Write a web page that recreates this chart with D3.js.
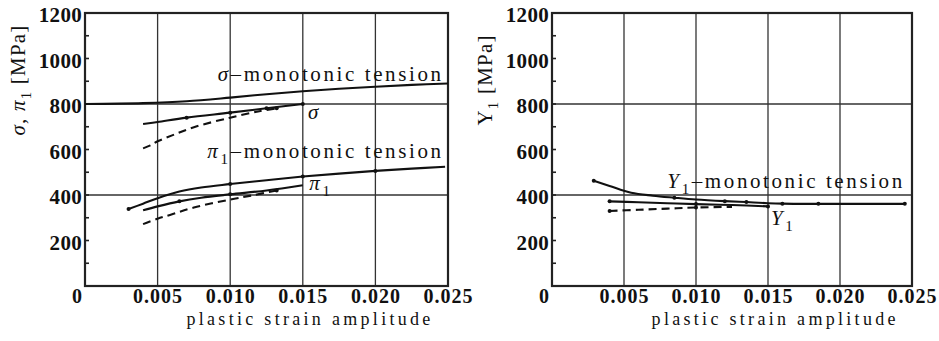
<!DOCTYPE html>
<html><head><meta charset="utf-8">
<script src="https://cdn.jsdelivr.net/npm/d3@7"></script>
<style>
body{margin:0;background:#fff;}
svg{display:block;}
text{font-family:"Liberation Serif","Times New Roman",Tinos,serif;fill:#111;}
</style></head>
<body>
<svg id="c" width="939" height="341"></svg>
<script>
// ---------- data ----------
const xTicks = [0, 0.005, 0.010, 0.015, 0.020, 0.025];
const xTickLabels = ["0", "0.005", "0.010", "0.015", "0.020", "0.025"];
const yTicks = [200, 400, 600, 800, 1000, 1200];
const yTickLabels = ["200", "400", "600", "800", "1000", "1200"];
const yMinorTicks = [100, 300, 500, 700, 900, 1100];
const hGrid = [400, 800];
const vGrid = [0.005, 0.010, 0.015, 0.020];

// left panel
const sigmaMono = [[0,800],[0.004,804],[0.007,812],[0.010,828],[0.0125,843],[0.015,856],[0.0175,867],[0.020,876],[0.0225,884],[0.025,890]];
const sigmaCyc = [[0.004,712],[0.005,721],[0.007,740],[0.010,762],[0.0125,781],[0.015,800]];
const sigmaCycDash = [[0.004,605],[0.0045,618],[0.005,636],[0.006,662],[0.0075,698],[0.010,740],[0.012,768],[0.0132,781]];
const pi1Mono = [[0.003,338],[0.004,362],[0.005,386],[0.0065,415],[0.008,433],[0.010,448],[0.0125,465],[0.015,481],[0.0175,494],[0.020,506],[0.0225,516],[0.0248,524]];
const pi1Cyc = [[0.004,333],[0.005,350],[0.0065,372],[0.008,388],[0.010,403],[0.0125,420],[0.015,443]];
const pi1CycDash = [[0.004,272],[0.005,296],[0.006,315],[0.0075,345],[0.010,380],[0.0115,398],[0.0132,420]];

// right panel
const y1Mono = [[0.0029,463],[0.004,440],[0.0055,410],[0.007,397],[0.0085,388],[0.010,380],[0.012,373],[0.0135,369],[0.015,364],[0.016,362],[0.0185,361],[0.0245,361]];
const y1Cyc = [[0.004,372],[0.006,368],[0.008,364],[0.010,360],[0.0125,356],[0.015,350]];
const y1CycDash = [[0.004,330],[0.006,335],[0.008,340],[0.010,345],[0.0125,348]];

// ---------- drawing ----------
const svg = d3.select("#c");
const panels = [
  {x0:85, x1:448, series:[
     {d:sigmaMono, dash:null, dots:[]},
     {d:sigmaCyc, dash:null, dots:[0.007,0.010,0.0125,0.015]},
     {d:sigmaCycDash, dash:"8,5", dots:[0.0132]},
     {d:pi1Mono, dash:null, dots:[0.003,0.010,0.015,0.020]},
     {d:pi1Cyc, dash:null, dots:[0.0065,0.010]},
     {d:pi1CycDash, dash:"8,5", dots:[0.0132]}
   ],
   labels:[
     {x:0.0247, y:901, anchor:"end", parts:[["σ","italic",0],["–monotonic tension","normal",0]]},
     {x:0.0247, y:564, anchor:"end", parts:[["π","italic",0],["1","normal",1],["–monotonic tension","normal",-1]]},
     {x:0.01535, y:736, anchor:"start", parts:[["σ","italic",0]]},
     {x:0.01545, y:424, anchor:"start", parts:[["π","italic",0],["1","normal",1]]}
   ],
   ytitle:[["σ","italic",0],[", ","normal",0],["π","italic",0],["1","normal",1],[" [MPa]","normal",-1]],
   ytx:18, xt:0.0155},
  {x0:552, x1:912, series:[
     {d:y1Mono, dash:null, dots:[0.0029,0.0085,0.012,0.0135,0.016,0.0185,0.0245]},
     {d:y1Cyc, dash:null, dots:[0.004,0.010,0.015]},
     {d:y1CycDash, dash:"8,5", dots:[0.004,0.010]}
   ],
   labels:[
     {x:0.0245, y:431, anchor:"end", parts:[["Y","italic",0],["1","normal",1],["–monotonic tension","normal",-1]]},
     {x:0.0152, y:268, anchor:"start", parts:[["Y","italic",0],["1","normal",1]]}
   ],
   ytitle:[["Y","normal",0],["1","normal",1],["  [MPa]","normal",-1]],
   ytx:485, xt:0.0155}
];

const yTop = 13, yBot = 286;

function addParts(t, parts, size, subSize){
  parts.forEach(p=>{
    const ts = t.append("tspan").text(p[0]).attr("font-style", p[1]);
    if(p[2]===1){ ts.attr("dy", size*0.3).attr("font-size", subSize); }
    else if(p[2]===-1){ ts.attr("dy", -size*0.3); }
  });
}

panels.forEach(P=>{
  const x = d3.scaleLinear().domain([0,0.025]).range([P.x0,P.x1]);
  const y = d3.scaleLinear().domain([0,1200]).range([yBot,yTop]);
  const g = svg.append("g");

  // grid
  g.selectAll(".vg").data(vGrid).join("line")
    .attr("x1",d=>x(d)).attr("x2",d=>x(d)).attr("y1",yTop).attr("y2",yBot)
    .attr("stroke","#333").attr("stroke-width",1.3);
  g.selectAll(".hg").data(hGrid).join("line")
    .attr("x1",P.x0).attr("x2",P.x1).attr("y1",d=>y(d)).attr("y2",d=>y(d))
    .attr("stroke","#333").attr("stroke-width",1.3);
  // frame
  g.append("rect").attr("x",P.x0).attr("y",yTop).attr("width",P.x1-P.x0).attr("height",yBot-yTop)
    .attr("fill","none").attr("stroke","#222").attr("stroke-width",2.2);

  // y ticks (inward)
  g.selectAll(".ymt").data(yMinorTicks.concat(yTicks)).join("line")
    .attr("x1",P.x0).attr("x2",P.x0+4).attr("y1",d=>y(d)).attr("y2",d=>y(d))
    .attr("stroke","#222").attr("stroke-width",1.6);

  // y tick labels via axis
  const ya = d3.axisLeft(y).tickValues(yTicks).tickFormat((d,i)=>yTickLabels[i]).tickSize(0).tickPadding(3);
  const yg = g.append("g").attr("transform",`translate(${P.x0},0)`).call(ya);
  yg.select(".domain").remove();
  yg.selectAll("text").attr("font-size",21)
    .attr("font-weight","bold").attr("fill","#222").attr("dy","0.42em").attr("letter-spacing","0.3px");

  // x tick labels via axis
  const xa = d3.axisBottom(x).tickValues(xTicks).tickFormat((d,i)=>xTickLabels[i]).tickSize(0).tickPadding(3);
  const xg = g.append("g").attr("transform",`translate(0,${yBot})`).call(xa);
  xg.select(".domain").remove();
  xg.selectAll("text").attr("font-size",20).attr("font-weight","bold")
    .attr("fill","#222").attr("letter-spacing","1px")
    .attr("dx",(d)=> d===0 ? -8 : 0);

  // x title
  g.append("text").attr("x",x(P.xt)).attr("y",325)
    .attr("text-anchor","middle").attr("font-size",18).attr("letter-spacing","3.3px")
    .text("plastic strain amplitude");

  // y title
  const yt = g.append("text").attr("transform",`translate(${P.ytx+7},80) rotate(-90)`)
    .attr("text-anchor","middle").attr("font-size",21).attr("letter-spacing","1.2px");
  addParts(yt, P.ytitle, 21, 15);

  // curves
  const line = d3.line().x(d=>x(d[0])).y(d=>y(d[1])).curve(d3.curveCatmullRom.alpha(0.5));
  P.series.forEach(s=>{
    g.append("path").attr("d",line(s.d)).attr("fill","none").attr("stroke","#111")
      .attr("stroke-width",2.1).attr("stroke-dasharray",s.dash);
    const pts = s.d.filter(p=>s.dots.includes(p[0]));
    g.selectAll(null).data(pts).join("circle")
      .attr("cx",p=>x(p[0])).attr("cy",p=>y(p[1])).attr("r",2).attr("fill","#111");
  });

  // labels
  P.labels.forEach(L=>{
    const t = g.append("text").attr("x",x(L.x)).attr("y",y(L.y)).attr("text-anchor",L.anchor)
      .attr("font-size",21).attr("letter-spacing","2.6px");
    addParts(t, L.parts, 21, 15);
  });
});
</script>
</body></html>
